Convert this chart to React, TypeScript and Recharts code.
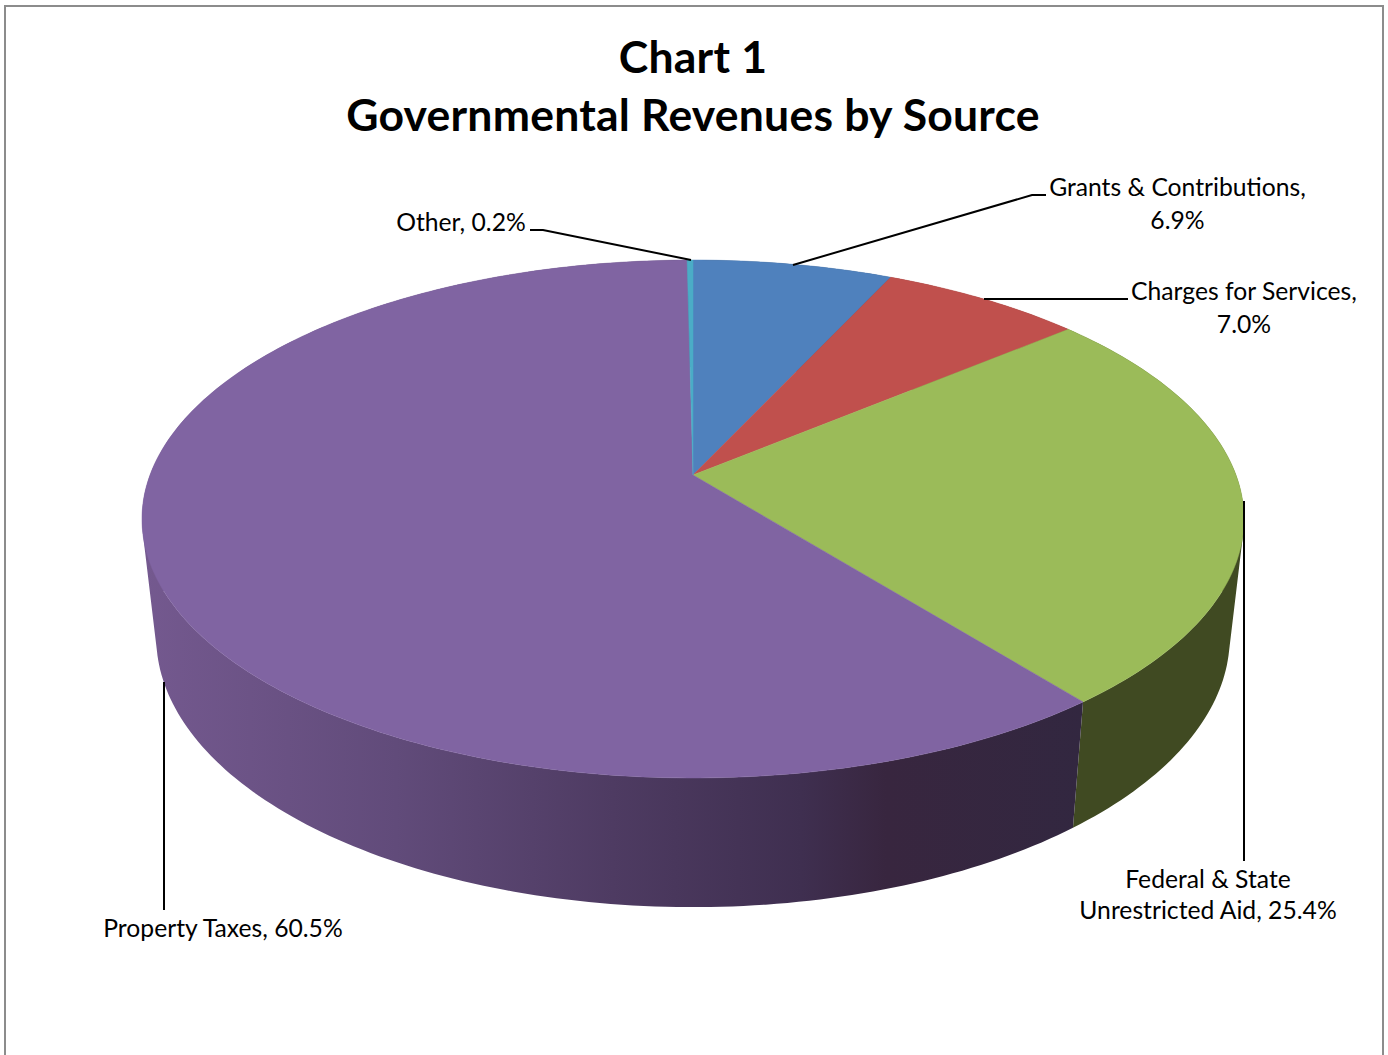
import { Pie, PieChart } from "recharts";

const sliceNames = [
  "Grants & Contributions",
  "Charges for Services",
  "Federal & State Unrestricted Aid",
  "Property Taxes",
  "Other",
];
const sliceValues = [6.9, 7.0, 25.4, 60.5, 0.2];
const topColors = ["#4f81bd", "#c0504d", "#9bbb59", "#8064a2", "#4bacc6"];
const wallColors = ["#2f4d71", "#73302e", "#404a22", "url(#purpleWall)", "#2d6776"];
const titleLines = ["Chart 1", "Governmental Revenues by Source"];
const labelBreaks = ["Contributions, ", "Services, ", "State ", "", ""];

// x, baseline of the first line, and the leader line for each label
const labelAnchors = [
  { x: 1177.5, y: 196, line: "793,265 1032,195 1046,195" },
  { x: 1244, y: 300, line: "984,299 1128,299" },
  { x: 1208, y: 888, line: "1244,501 1244,861" },
  { x: 223, y: 937, line: "164,682 164,910" },
  { x: 461, y: 231, line: "530,230 543,230 691,260" },
];

const FONT = "Lato, Carlito, sans-serif";
const CX = 693;
const CY = 475;

const tableFor = (colors: string[]) =>
  sliceNames.map((name, i) => ({ name, value: sliceValues[i], fill: colors[i] }));

// The pie is tilted: the plate is a perspective view of a circle, so the centre
// is not the middle of the ellipse. Same projection for both faces.
const TILT = 0.1699;
const topFace = { spanX: 543, midY: CY, spanY: 170.8 };
const bottomFace = { spanX: 529, midY: 591, spanY: 162 };

const project = (deg: number, face: typeof topFace) => {
  const u = Math.cos((deg * Math.PI) / 180);
  const v = Math.sin((deg * Math.PI) / 180);
  const w = 1 + TILT * v;
  return [CX + (face.spanX * u) / w, (face.midY - face.spanY * v) / w];
};

const arcPoints = (from: number, to: number, face: typeof topFace) => {
  const steps = Math.max(2, Math.ceil(Math.abs(to - from)));
  const pts: number[][] = [];
  for (let i = 0; i <= steps; i++) pts.push(project(from + ((to - from) * i) / steps, face));
  return pts;
};

const toPath = (pts: number[][]) =>
  "M" + pts.map((p) => `${p[0].toFixed(2)},${p[1].toFixed(2)}`).join("L") + "Z";

const signedArea = (pts: number[][]) =>
  pts.reduce((sum, p, i) => {
    const q = pts[(i + 1) % pts.length];
    return sum + p[0] * q[1] - q[0] * p[1];
  }, 0);

const TopSlice = (props: any) => {
  const pts = [[CX, CY], ...arcPoints(props.startAngle, props.endAngle, topFace)];
  return <path d={toPath(pts)} fill={props.fill} stroke={props.fill} strokeWidth={0.5} />;
};

// quads all wound the same way, a single strip would cancel itself near the silhouette
const WallSlice = (props: any) => {
  const top = arcPoints(props.startAngle, props.endAngle, topFace);
  const bottom = arcPoints(props.startAngle, props.endAngle, bottomFace);
  const quads = top.slice(1).map((p, i) => {
    const quad = [top[i], p, bottom[i + 1], bottom[i]];
    return toPath(signedArea(quad) < 0 ? quad.reverse() : quad);
  });
  return <path d={quads.join("")} fill={props.fill} />;
};

const SliceLabel = (props: any) => {
  const { index } = props;
  const anchor = labelAnchors[index];
  const full = `${sliceNames[index]}, ${sliceValues[index].toFixed(1)}%`;
  const brk = labelBreaks[index];
  const lines = brk ? full.replace(brk, brk.trim() + "\n").split("\n") : [full];
  return (
    <g>
      <polyline points={anchor.line} fill="none" stroke="#000" strokeWidth={2} />
      {lines.map((text, i) => (
        <text
          key={text}
          x={anchor.x}
          y={anchor.y + i * (index === 2 ? 31 : 33)}
          textAnchor="middle"
          fontFamily={FONT}
          fontSize={24.7}
          fill="#000"
        >
          {text}
        </text>
      ))}
    </g>
  );
};

const App = () => {
  return (
    <div style={{ position: "absolute", left: 0, top: 0, width: 1388, height: 1055, overflow: "hidden", background: "#fff" }}>
      <div
        style={{
          position: "absolute",
          left: 4,
          top: 5,
          width: 1376,
          height: 1100,
          border: "2px solid #8c8c8c",
        }}
      />
      <div style={{ position: "absolute", left: 0, top: 0 }}>
        <PieChart width={1388} height={1055} margin={{ top: 0, right: 0, bottom: 0, left: 0 }}>
          <defs>
            <linearGradient id="purpleWall" gradientUnits="userSpaceOnUse" x1={142} y1={0} x2={1084} y2={0}>
              <stop offset="0" stopColor="#74598f" />
              <stop offset="0.27" stopColor="#614b7a" />
              <stop offset="0.5" stopColor="#4e3b62" />
              <stop offset="0.7" stopColor="#3f2f50" />
              <stop offset="0.79" stopColor="#38263f" />
              <stop offset="1" stopColor="#322740" />
            </linearGradient>
          </defs>
          {titleLines.map((line, i) => (
            <text
              key={line}
              x={693}
              y={73 + i * 58}
              textAnchor="middle"
              fontFamily={FONT}
              fontWeight={700}
              fontSize={44.5}
              letterSpacing={0.22}
              fill="#000"
            >
              {line}
            </text>
          ))}
          <Pie
            data={tableFor(wallColors)}
            dataKey="value"
            nameKey="name"
            cx={CX}
            cy={CY}
            outerRadius={200}
            startAngle={90}
            endAngle={-270}
            stroke="none"
            shape={WallSlice}
            isAnimationActive={false}
          />
          <Pie
            data={tableFor(topColors)}
            dataKey="value"
            nameKey="name"
            cx={CX}
            cy={CY}
            outerRadius={200}
            startAngle={90}
            endAngle={-270}
            stroke="none"
            shape={TopSlice}
            label={SliceLabel}
            labelLine={false}
            isAnimationActive={false}
          />
        </PieChart>
      </div>
    </div>
  );
};

export default App;
